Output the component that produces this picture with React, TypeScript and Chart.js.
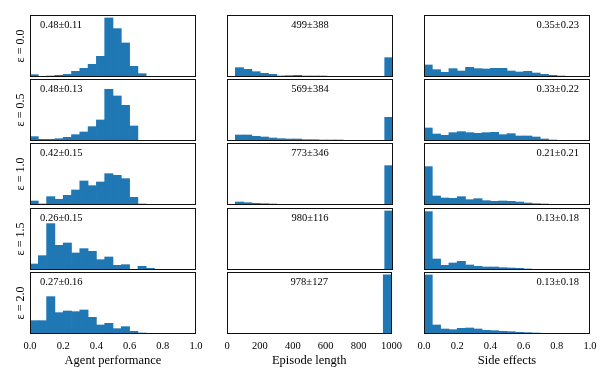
import React, { useEffect, useRef } from "react";
import { Chart, registerables } from "chart.js";

Chart.register(...registerables);
Chart.defaults.font.family = '"Liberation Serif", "DejaVu Serif", serif';
Chart.defaults.color = "#000";

// ---- data ----
const rowLabels = ["ε = 0.0", "ε = 0.5", "ε = 1.0", "ε = 1.5", "ε = 2.0"];
const colTitles = ["Agent performance", "Episode length", "Side effects"];

const perfCenters = [0.025, 0.075, 0.125, 0.175, 0.225, 0.275, 0.325, 0.375, 0.425, 0.475, 0.525, 0.575, 0.625, 0.675, 0.725, 0.775, 0.825, 0.875, 0.925, 0.975];
const lengthCenters = [25, 75, 125, 175, 225, 275, 325, 375, 425, 475, 525, 575, 625, 675, 725, 775, 825, 875, 925, 975];
const sideCenters = [0.025, 0.075, 0.125, 0.175, 0.225, 0.275, 0.325, 0.375, 0.425, 0.475, 0.525, 0.575, 0.625, 0.675, 0.725, 0.775, 0.825, 0.875, 0.925, 0.975];

const perfTickLabels = ["0.0", "0.2", "0.4", "0.6", "0.8", "1.0"];
const lengthTickLabels = ["0", "200", "400", "600", "800", "1000"];
const sideTickLabels = ["0.0", "0.2", "0.4", "0.6", "0.8", "1.0"];

const perfEps00 = [7, 1, 3, 5, 8, 17, 26, 38, 62, 177, 145, 102, 32, 10, 0, 0, 0, 0, 0, 0];
const perfEps05 = [13, 5, 5, 7, 11, 19, 27, 43, 63, 155, 135, 107, 45, 2, 1, 0, 0, 0, 0, 0];
const perfEps10 = [12, 3, 25, 17, 29, 45, 72, 58, 69, 94, 89, 79, 23, 3, 2, 0, 0, 0, 0, 0];
const perfEps15 = [18, 43, 139, 74, 81, 51, 64, 56, 31, 39, 14, 16, 0, 11, 5, 0, 0, 0, 0, 0];
const perfEps20 = [40, 40, 112, 64, 69, 67, 72, 50, 27, 32, 16, 22, 8, 3, 2, 2, 0, 0, 0, 0];

const lengthEps00 = [0, 28, 23, 16, 11, 8, 3, 4, 5, 3, 3, 3, 2, 2, 2, 1, 1, 1, 0, 58];
const lengthEps05 = [0, 18, 18, 14, 12, 9, 7, 6, 6, 4, 4, 3, 3, 3, 2, 2, 1, 1, 0, 71];
const lengthEps10 = [0, 9, 7, 5, 4, 3, 2, 2, 2, 1, 2, 1, 1, 0, 0, 0, 0, 0, 0, 118];
const lengthEps15 = [0, 1, 0, 0, 0, 0, 0, 0, 0, 0, 0, 0, 0, 0, 0, 0, 0, 0, 0, 177];
const lengthEps20 = [1, 0, 0, 0, 0, 0, 0, 0, 0, 0, 0, 0, 0, 0, 0, 0, 0, 0, 0, 177];

const sideEps00 = [36, 22, 14, 25, 18, 29, 25, 24, 26, 26, 18, 15, 17, 12, 8, 5, 3, 2, 1, 0];
const sideEps05 = [39, 21, 17, 25, 28, 25, 23, 25, 26, 19, 22, 15, 15, 12, 6, 3, 2, 1, 1, 0];
const sideEps10 = [115, 27, 21, 20, 25, 16, 19, 13, 11, 12, 11, 9, 6, 4, 3, 1, 0, 0, 0, 0];
const sideEps15 = [175, 33, 14, 21, 26, 15, 11, 9, 9, 7, 6, 5, 3, 2, 1, 0, 0, 0, 0, 0];
const sideEps20 = [177, 27, 15, 13, 17, 18, 15, 11, 10, 8, 7, 5, 4, 3, 2, 1, 0, 0, 0, 0];

const perfStats = ["0.48±0.11", "0.48±0.13", "0.42±0.15", "0.26±0.15", "0.27±0.16"];
const lengthStats = ["499±388", "569±384", "773±346", "980±116", "978±127"];
const sideStats = ["0.35±0.23", "0.33±0.22", "0.21±0.21", "0.13±0.18", "0.13±0.18"];

const columns = [
  { centers: perfCenters, rows: [perfEps00, perfEps05, perfEps10, perfEps15, perfEps20], stats: perfStats, ticks: perfTickLabels, xMax: 1, step: 0.2, align: "left" },
  { centers: lengthCenters, rows: [lengthEps00, lengthEps05, lengthEps10, lengthEps15, lengthEps20], stats: lengthStats, ticks: lengthTickLabels, xMax: 1000, step: 200, align: "center" },
  { centers: sideCenters, rows: [sideEps00, sideEps05, sideEps10, sideEps15, sideEps20], stats: sideStats, ticks: sideTickLabels, xMax: 1, step: 0.2, align: "right" },
];

// ---- layout ----
const COL_LEFT = [30, 227, 424];
const ROW_TOP = [15, 79, 143, 208, 272];
const BOX_W = 166;
const BOX_H = 62;
const BAR_COLOR = "#1f77b4";

type PanelProps = { row: number; col: number };

function Panel({ row, col }: PanelProps) {
  const ref = useRef<HTMLCanvasElement>(null);
  const colDef = columns[col];
  const isBottom = row === 4;
  const isLeft = col === 0;
  const padL = !isLeft && isBottom ? 15 : 0;
  const padR = isBottom ? 15 : 0;
  const yAxisW = isLeft ? 30 : 0;
  const xAxisH = isBottom ? 46 : 0;
  const left = COL_LEFT[col] - yAxisW - padL;
  const width = padL + yAxisW + BOX_W + padR;
  const height = BOX_H + xAxisH;

  useEffect(() => {
    if (!ref.current) return;
    const values = colDef.rows[row];
    let colMax = 0;
    colDef.rows.forEach((r) => r.forEach((v) => { if (v > colMax) colMax = v; }));
    const yMax = colMax * 1.05;
    const stat = colDef.stats[row];
    const align = colDef.align;

    const framePlugin = {
      id: "frame",
      afterDraw(chart: any) {
        const { ctx, chartArea } = chart;
        const { left: l, top: t, right: r, bottom: b } = chartArea;
        ctx.save();
        ctx.font = '10.5px "Liberation Serif", serif';
        ctx.fillStyle = "#000";
        ctx.textBaseline = "middle";
        ctx.textAlign = align as CanvasTextAlign;
        const tx = align === "left" ? l + 10 : align === "center" ? (l + r) / 2 : r - 11;
        ctx.fillText(stat, tx, t + 10);
        ctx.strokeStyle = "#111";
        ctx.lineWidth = 1;
        ctx.strokeRect(Math.round(l) + 0.5, Math.round(t) + 0.5, Math.round(r - l) - 1, Math.round(b - t) - 1);
        ctx.restore();
      },
    };

    const chart = new Chart(ref.current, {
      type: "bar",
      data: {
        datasets: [
          {
            data: colDef.centers.map((c, i) => ({ x: c, y: values[i] })),
            backgroundColor: BAR_COLOR,
            borderWidth: 0,
            barPercentage: 1,
            categoryPercentage: 1,
          },
        ],
      },
      options: {
        animation: false,
        responsive: false,
        maintainAspectRatio: false,
        events: [],
        layout: { padding: { left: padL, right: padR, top: 0, bottom: 0 } },
        plugins: { legend: { display: false }, tooltip: { enabled: false } },
        scales: {
          x: {
            type: "linear",
            min: 0,
            max: colDef.xMax,
            offset: false,
            display: isBottom,
            grid: { display: false, drawTicks: false },
            border: { display: false },
            ticks: {
              stepSize: colDef.step,
              autoSkip: false,
              maxRotation: 0,
              padding: 6,
              font: { size: 10.5 },
              color: "#000",
              callback: (_v: any, i: number) => colDef.ticks[i],
            },
            title: {
              display: isBottom,
              text: colTitles[col],
              font: { size: 12.5 },
              color: "#000",
              padding: { top: 0, bottom: 12 },
            },
            afterFit: (s: any) => { if (isBottom) s.height = xAxisH; },
          },
          y: {
            type: "linear",
            min: 0,
            max: yMax,
            display: isLeft,
            grid: { display: false, drawTicks: false },
            border: { display: false },
            ticks: { display: false },
            title: {
              display: isLeft,
              text: rowLabels[row],
              font: { size: 12 },
              color: "#000",
              padding: { top: 14, bottom: 0 },
            },
            afterFit: (s: any) => { if (isLeft) s.width = yAxisW; },
          },
        },
      } as any,
      plugins: [framePlugin],
    });
    return () => chart.destroy();
  }, [row, col]);

  return (
    <canvas
      ref={ref}
      width={width}
      height={height}
      style={{ position: "absolute", left, top: ROW_TOP[row], width, height, display: "block" }}
    />
  );
}

export default function App() {
  const panels = [];
  for (let r = 0; r < 5; r++) {
    for (let c = 0; c < 3; c++) {
      panels.push(<Panel key={`${r}-${c}`} row={r} col={c} />);
    }
  }
  return (
    <div style={{ position: "absolute", left: 0, top: 0, width: 608, height: 380, background: "#fff", overflow: "hidden" }}>
      {panels}
    </div>
  );
}
